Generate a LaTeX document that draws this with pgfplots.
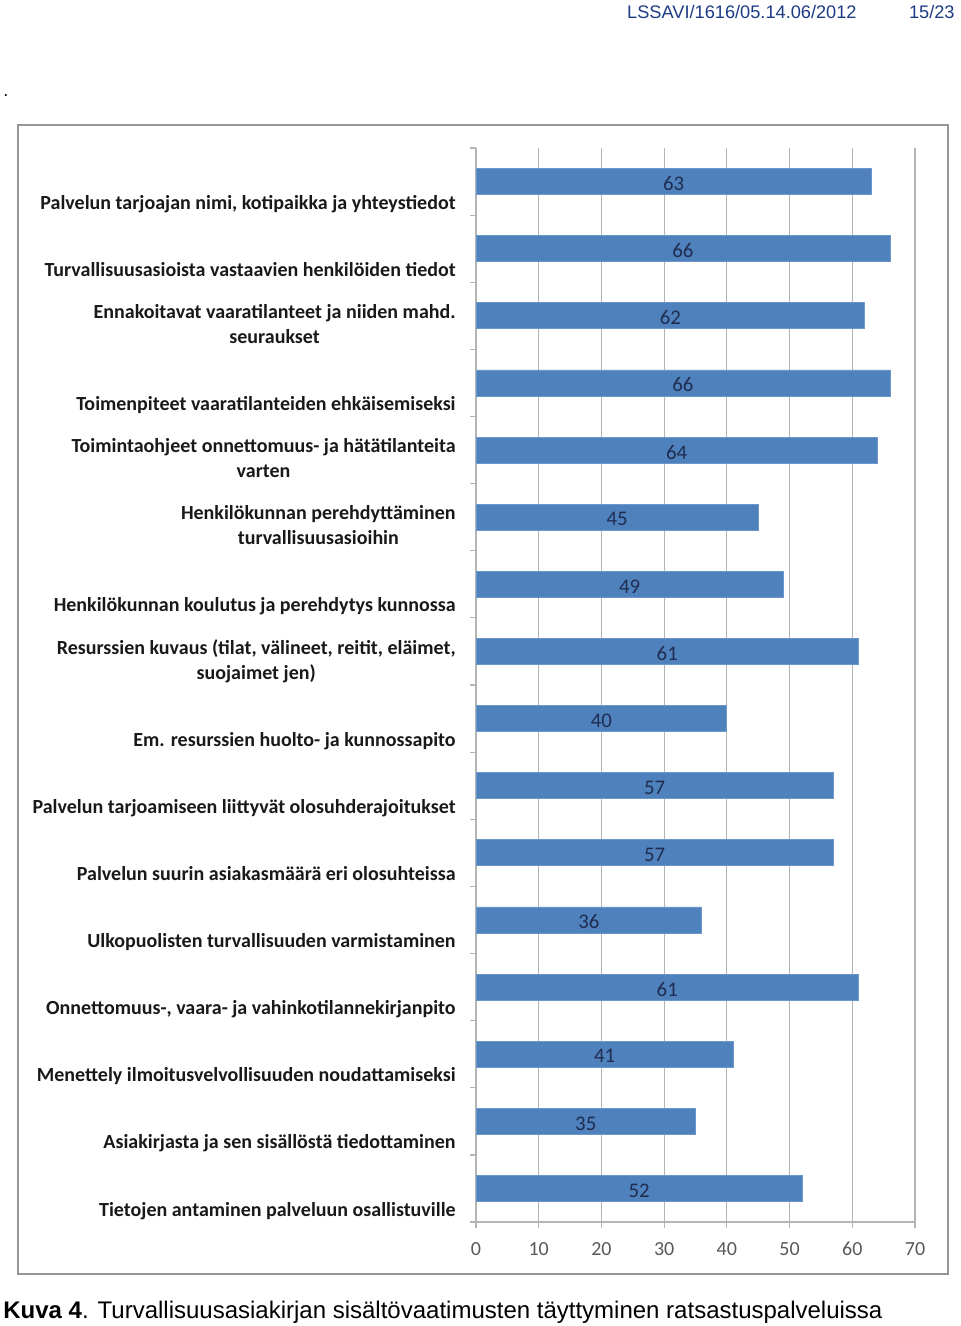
\documentclass[border=0pt]{standalone}
\usepackage{pgfplots}
\pgfplotsset{compat=1.18}
\usepackage{pgfplotstable}
\usepackage{fontspec}
\setmainfont{Carlito}
\newfontfamily\arial{Liberation Sans}

\definecolor{barblue}{HTML}{4F81BD}
\definecolor{baredge}{HTML}{6D97CB}
\definecolor{valtext}{HTML}{1F2D50}
\definecolor{headblue}{HTML}{1E3C86}
\definecolor{gridgray}{HTML}{B4B4B4}
\definecolor{ticktext}{HTML}{595959}

% c = category (1 = top), v = value
\pgfplotstableread{
c v
1 63
2 66
3 62
4 66
5 64
6 45
7 49
8 61
9 40
10 57
11 57
12 36
13 61
14 41
15 35
16 52
}\kriteerit

\begin{document}
\begin{tikzpicture}
% page: 960 x 1326 px, 1 px = 0.5pt
\useasboundingbox (0,0) rectangle (480pt,-663pt);
\fill[white] (0,0) rectangle (480pt,-663pt);

\node[anchor=east, text=headblue, font=\arial\fontsize{9.1}{10}\selectfont, inner sep=0]
  at (428.5pt,-6pt) {LSSAVI/1616/05.14.06/2012};
\node[anchor=east, text=headblue, font=\arial\fontsize{9.1}{10}\selectfont, inner sep=0]
  at (477.5pt,-6pt) {15/23};
\node[anchor=west, font=\arial\fontsize{9}{10}\selectfont, inner sep=0] at (1.5pt,-48pt) {.};

\draw[color={rgb,255:red,150;green,150;blue,150}, line width=1pt]
  (9pt,-62.5pt) rectangle (474pt,-637pt);

\begin{axis}[
    at={(238pt,-74pt)}, anchor=north west,
    scale only axis,
    width=219.5pt, height=537pt,
    xmin=0, xmax=70,
    ymin=0.5, ymax=16.5,
    y dir=reverse,
    axis x line*=bottom,
    axis y line*=left,
    axis line style={gridgray, line width=0.6pt},
    xtick={0,10,...,70},
    ytick={1,...,16},
    minor ytick={0.5,1.5,...,16.5},
    major y tick style={draw=none},
    minor y tick style={gridgray, line width=0.6pt},
    major x tick style={gridgray, line width=0.6pt},
    tick align=outside,
    major tick length=3pt,
    minor tick length=3pt,
    xmajorgrids,
    grid style={gridgray, line width=0.6pt},
    /pgf/number format/assume math mode=true,
    xticklabel style={font=\fontsize{10}{10}\selectfont, text=ticktext,
      anchor=base, text depth=0pt, yshift=-13.5pt},
    yticklabel style={font=\bfseries\fontsize{10}{12.5}\selectfont, align=center,
      anchor=south east, inner sep=0pt, text depth=0pt, xshift=-7pt, yshift=-14pt, text=black!90},
    yticklabels={
      {Palvelun tarjoajan nimi, kotipaikka ja yhteystiedot},
      {Turvallisuusasioista vastaavien henkilöiden tiedot},
      {Ennakoitavat vaaratilanteet ja niiden mahd.\\seuraukset},
      {Toimenpiteet vaaratilanteiden ehkäisemiseksi},
      {Toimintaohjeet onnettomuus- ja hätätilanteita\\varten},
      {Henkilökunnan perehdyttäminen\\turvallisuusasioihin},
      {Henkilökunnan koulutus ja perehdytys kunnossa},
      {Resurssien kuvaus (tilat, välineet, reitit, eläimet,\\suojaimet jen)},
      {Em. resurssien huolto- ja kunnossapito},
      {Palvelun tarjoamiseen liittyvät olosuhderajoitukset},
      {Palvelun suurin asiakasmäärä eri olosuhteissa},
      {Ulkopuolisten turvallisuuden varmistaminen},
      {Onnettomuus-, vaara- ja vahinkotilannekirjanpito},
      {Menettely ilmoitusvelvollisuuden noudattamiseksi},
      {Asiakirjasta ja sen sisällöstä tiedottaminen},
      {Tietojen antaminen palveluun osallistuville},
    },
    clip=false,
  ]
  \addplot[xbar, bar width=13pt, fill=barblue, draw=baredge, line width=0.4pt]
    table[x=v, y=c] {\kriteerit};
  % value labels in the middle of each bar
  \addplot[draw=none, mark=none, nodes near coords, point meta=explicit,
    every node near coord/.style={anchor=center, text=valtext, yshift=-1pt,
      font=\fontsize{10.4}{10}\selectfont, inner sep=0pt}]
    table[x expr=\thisrow{v}/2, y=c, meta=v] {\kriteerit};
\end{axis}

\node[anchor=west, font=\arial\fontsize{12}{13}\selectfont, inner sep=0]
  at (1.5pt,-656pt) {\textbf{Kuva 4}. Turvallisuusasiakirjan sisältövaatimusten täyttyminen ratsastuspalveluissa};
\end{tikzpicture}
\end{document}
